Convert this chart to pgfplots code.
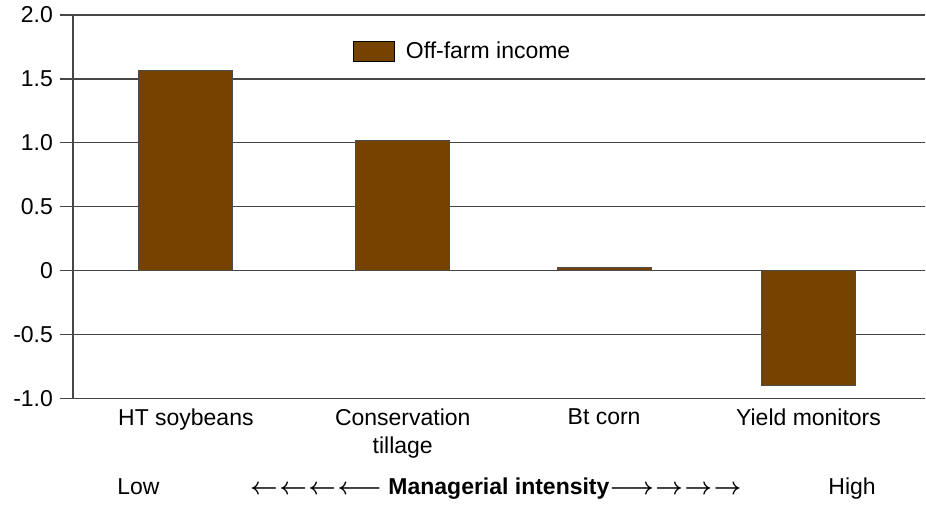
\documentclass[border=0pt]{standalone}
\usepackage{pgfplots}
\pgfplotsset{compat=1.18}
\usepackage{fontspec}
\setmainfont{Liberation Sans}
\usepackage{graphicx}
\usepackage{amsmath}
\definecolor{barbrown}{RGB}{117,66,0}
\definecolor{linegray}{RGB}{70,70,70}
\newcommand{\la}{$\boldsymbol{\leftarrow}$\kern0.8pt}
\newcommand{\ra}{\kern0.8pt$\boldsymbol{\rightarrow}$}
\begin{document}
\begin{tikzpicture}
\begin{axis}[
  scale only axis, width=426.5pt, height=192pt,
  xmin=-0.544, xmax=3.563, ymin=-1, ymax=2,
  axis lines*=left,
  axis line style={linegray, line width=0.6pt},
  ytick={-1,-0.5,0,0.5,1,1.5,2},
  yticklabels={-1.0,-0.5,0,0.5,1.0,1.5,2.0},
  ymajorgrids,
  grid style={linegray, line width=0.6pt},
  tick align=outside, major tick length=6.5pt,
  ytick style={linegray, line width=0.6pt},
  xtick={0,1.045,2.015,3}, xtick style={draw=none},
  xticklabels={HT soybeans, {Conservation\\tillage}, Bt corn, Yield monitors},
  xticklabel style={align=center, yshift=5pt, font=\fontsize{11.5}{14}\selectfont},
  yticklabel style={font=\fontsize{11.5}{14}\selectfont},
  ybar, bar width=47pt,
  legend image code/.code={\draw[fill=barbrown, draw=black, line width=0.5pt] (0pt,-5pt) rectangle (20.5pt,5pt);},
  legend style={draw=none, fill=none, at={(axis description cs:0.328,0.904)}, anchor=west,
    inner sep=0pt, font=\fontsize{11.5}{14}\selectfont},
  clip=false,
]
\addplot[fill=barbrown, draw=gray!60!black, line width=0.5pt]
  coordinates {(0,1.566) (1.045,1.018) (2.015,0.026) (3,-0.893)};
\addlegendentry{\hspace{3.5pt}Off-farm income}
\node[anchor=base, font=\fontsize{11.5}{14}\selectfont] at (axis description cs:0.0768,-0.25) {Low};
\node[anchor=base, font=\fontsize{11.5}{14}\selectfont] at (axis description cs:0.914,-0.25) {High};
\node[anchor=base, font=\fontsize{11.5}{14}\selectfont, inner sep=0pt] at (axis description cs:0.496,-0.25)
  {\la\la\la$\boldsymbol{\longleftarrow}$\ \textbf{Managerial intensity}$\boldsymbol{\longrightarrow}$\ra\ra\ra};
\end{axis}
\path (-36.5pt,-51.5pt) rectangle (426.5pt,199.5pt);
\end{tikzpicture}
\end{document}
